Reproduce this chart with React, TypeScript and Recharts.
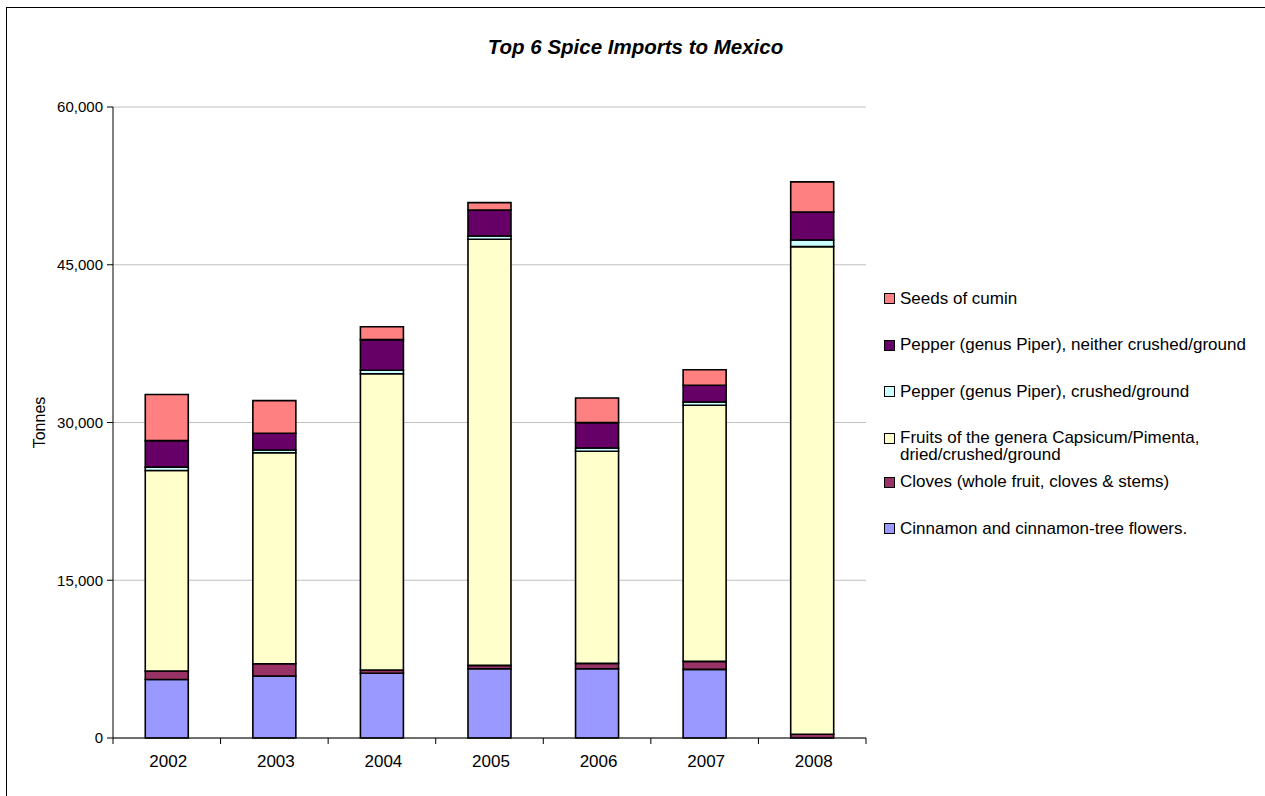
import React from 'react';
import { BarChart, Bar, XAxis, YAxis, CartesianGrid } from 'recharts';

const years = ['2002', '2003', '2004', '2005', '2006', '2007', '2008'];
const cinnamon = [5560, 5900, 6150, 6590, 6590, 6530, 0];
const cloves = [810, 1160, 320, 320, 510, 760, 350];
const capsicum = [19070, 20070, 28170, 40520, 20170, 24350, 46370];
const pepperCrushed = [320, 260, 330, 310, 310, 310, 640];
const pepperWhole = [2520, 1590, 2910, 2470, 2410, 1590, 2660];
const cumin = [4380, 3100, 1230, 700, 2340, 1470, 2860];
const yTicks = [0, 15000, 30000, 45000, 60000];

const series = [
  { key: 'cinnamon', name: 'Cinnamon and cinnamon-tree flowers.', color: '#9999FF', values: cinnamon },
  { key: 'cloves', name: 'Cloves (whole fruit, cloves & stems)', color: '#993366', values: cloves },
  { key: 'capsicum', name: 'Fruits of the genera Capsicum/Pimenta,\ndried/crushed/ground', color: '#FFFFCC', values: capsicum },
  { key: 'pepperCrushed', name: 'Pepper (genus Piper), crushed/ground', color: '#CCFFFF', values: pepperCrushed },
  { key: 'pepperWhole', name: 'Pepper (genus Piper), neither crushed/ground', color: '#660066', values: pepperWhole },
  { key: 'cumin', name: 'Seeds of cumin', color: '#FF8080', values: cumin },
];

const data = years.map((y, i) => {
  const row: Record<string, any> = { year: y };
  series.forEach((s) => (row[s.key] = s.values[i]));
  return row;
});

const W = 1265;
const H = 796;
const M = { top: 107, right: 399, bottom: 28, left: 53 };
const Y_AXIS_W = 60;
const X_AXIS_H = 30;
const PLOT_W = W - M.left - M.right - Y_AXIS_W;
const BAND = PLOT_W / years.length;
const FONT = '"Liberation Sans", Arial, sans-serif';

const XTick = (props: any) => {
  const { x, y, payload, index } = props;
  const axisY = y - 8;
  return (
    <g>
      {index === 0 && <line x1={x - BAND / 2} x2={x - BAND / 2} y1={axisY} y2={axisY + 6} stroke="#000" />}
      <line x1={x + BAND / 2} x2={x + BAND / 2} y1={axisY} y2={axisY + 6} stroke="#000" />
      <text x={x + 1.5} y={axisY + 25} textAnchor="middle" dominantBaseline="middle" fontSize={17} fill="#000" fontFamily={FONT}>
        {payload.value}
      </text>
    </g>
  );
};

const LegendBox = () => {
  const items = [...series].reverse();
  return (
    <div style={{ position: 'absolute', left: 884, top: 289.5, fontFamily: FONT, fontSize: 17, color: '#000' }}>
      {items.map((s) => {
        const lines = s.name.split('\n');
        return (
          <div key={s.key} style={{ display: 'flex', alignItems: 'flex-start', marginBottom: lines.length > 1 ? 10 : 29.5 }}>
            <div style={{ width: 9, height: 9, background: s.color, border: '1px solid #000', marginTop: 3.5, marginRight: 5, flexShrink: 0 }} />
            <div style={{ lineHeight: '17px', whiteSpace: 'nowrap' }}>
              {lines.map((l, i) => (
                <div key={i}>{l}</div>
              ))}
            </div>
          </div>
        );
      })}
    </div>
  );
};

export default function App() {
  return (
    <div style={{ position: 'absolute', left: 0, top: 0, width: W, height: H, background: '#fff', overflow: 'hidden' }}>
      <div style={{ position: 'absolute', left: 6, top: 7, width: W + 20, height: H + 20, border: '1px solid #000' }} />
      <div
        style={{
          position: 'absolute',
          left: 0,
          top: 35,
          width: W + 6,
          textAlign: 'center',
          fontFamily: FONT,
          fontWeight: 'bold',
          fontStyle: 'italic',
          fontSize: 20.5,
          color: '#000',
        }}
      >
        Top 6 Spice Imports to Mexico
      </div>
      <div style={{ position: 'absolute', left: 0, top: 0 }}>
        <BarChart width={W} height={H} data={data} margin={M} barCategoryGap="30%">
          <CartesianGrid vertical={false} stroke="#C0C0C0" />
          <XAxis
            dataKey="year"
            height={X_AXIS_H}
            axisLine={{ stroke: '#000' }}
            tickLine={false}
            tick={<XTick />}
            interval={0}
          />
          <YAxis
            width={Y_AXIS_W}
            domain={[0, 60000]}
            ticks={yTicks}
            interval={0}
            axisLine={{ stroke: '#000' }}
            tickLine={{ stroke: '#000' }}
            tickSize={6}
            tickMargin={4}
            tick={{ fontSize: 15, fill: '#000', fontFamily: FONT }}
            tickFormatter={(v: number) => v.toLocaleString('en-US')}
            label={{
              value: 'Tonnes',
              angle: -90,
              position: 'insideLeft',
              offset: 0,
              dx: -14,
              style: { textAnchor: 'middle', fontSize: 16, fill: '#000', fontFamily: FONT },
            }}
          />
          {series.map((s) => (
            <Bar
              key={s.key}
              dataKey={s.key}
              name={s.name}
              stackId="a"
              fill={s.color}
              stroke="#000"
              strokeWidth={1.6}
              isAnimationActive={false}
            />
          ))}
        </BarChart>
      </div>
      <LegendBox />
    </div>
  );
}
